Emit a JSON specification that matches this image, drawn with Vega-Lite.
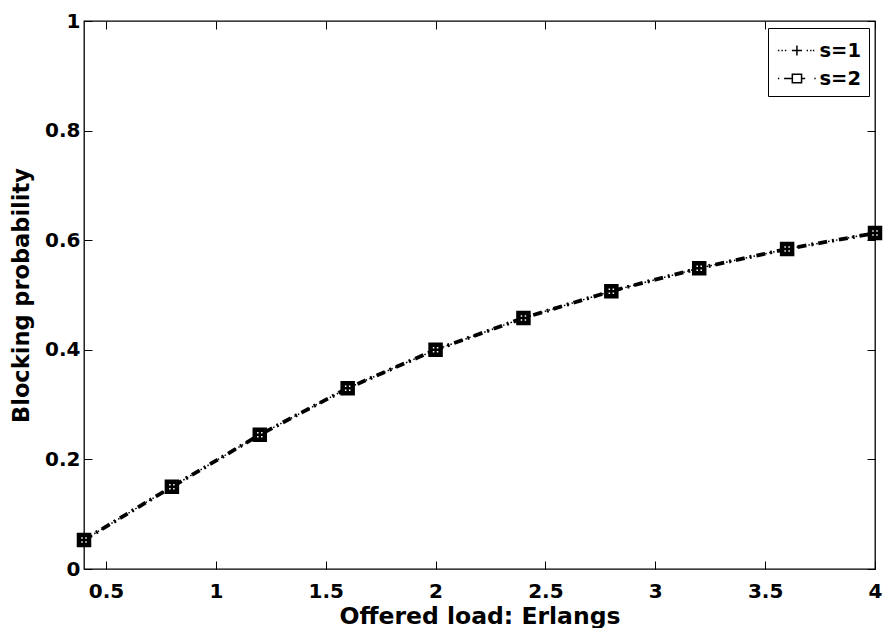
{
  "$schema": "https://vega.github.io/schema/vega-lite/v6.json",
  "width": 791,
  "height": 548,
  "autosize": {"type": "none"},
  "padding": {"left": 84, "top": 21, "right": 10, "bottom": 59},
  "background": "white",
  "config": {
    "font": "DejaVu Sans",
    "view": {"stroke": "black", "strokeWidth": 1.3},
    "axis": {
      "domain": false,
      "grid": false,
      "ticks": true,
      "tickColor": "black",
      "tickSize": -8,
      "tickWidth": 1,
      "labelFont": "DejaVu Sans",
      "labelFontWeight": "bold",
      "labelFontSize": 20,
      "labelColor": "black",
      "titleFont": "DejaVu Sans",
      "titleFontWeight": "bold",
      "titleColor": "black",
      "labelBound": false,
      "labelFlush": false,
      "labelOverlap": false
    }
  },
  "data": {
    "values": [
      {"load": 0.4, "p": 0.053, "s": "s=1"},
      {"load": 0.8, "p": 0.150, "s": "s=1"},
      {"load": 1.2, "p": 0.245, "s": "s=1"},
      {"load": 1.6, "p": 0.330, "s": "s=1"},
      {"load": 2.0, "p": 0.400, "s": "s=1"},
      {"load": 2.4, "p": 0.458, "s": "s=1"},
      {"load": 2.8, "p": 0.507, "s": "s=1"},
      {"load": 3.2, "p": 0.549, "s": "s=1"},
      {"load": 3.6, "p": 0.584, "s": "s=1"},
      {"load": 4.0, "p": 0.613, "s": "s=1"},
      {"load": 0.4, "p": 0.053, "s": "s=2"},
      {"load": 0.8, "p": 0.150, "s": "s=2"},
      {"load": 1.2, "p": 0.245, "s": "s=2"},
      {"load": 1.6, "p": 0.330, "s": "s=2"},
      {"load": 2.0, "p": 0.400, "s": "s=2"},
      {"load": 2.4, "p": 0.458, "s": "s=2"},
      {"load": 2.8, "p": 0.507, "s": "s=2"},
      {"load": 3.2, "p": 0.549, "s": "s=2"},
      {"load": 3.6, "p": 0.584, "s": "s=2"},
      {"load": 4.0, "p": 0.613, "s": "s=2"}
    ]
  },
  "resolve": {"axis": {"x": "independent", "y": "independent"}},
  "layer": [
    {
      "transform": [{"filter": "datum.s === 's=1'"}],
      "mark": {"type": "line", "color": "black", "strokeWidth": 1.5, "strokeDash": [1.5, 2.5]},
      "encoding": {
        "x": {
          "field": "load", "type": "quantitative",
          "scale": {"domain": [0.4, 4], "nice": false, "zero": false},
          "axis": {
            "orient": "bottom",
            "values": [0.5, 1, 1.5, 2, 2.5, 3, 3.5, 4],
            "format": "~g",
            "labelPadding": 20,
            "title": "Offered load: Erlangs",
            "titleFontSize": 23.5,
            "titleBaseline": "alphabetic",
            "titleAlign": "center",
            "titleX": 395.5,
            "titleY": 54
          }
        },
        "y": {
          "field": "p", "type": "quantitative",
          "scale": {"domain": [0, 1], "nice": false},
          "axis": {
            "orient": "left",
            "values": [0, 0.2, 0.4, 0.6, 0.8, 1],
            "format": "~g",
            "labelPadding": 12,
            "title": "Blocking probability",
            "titleFontSize": 22.5,
            "titleAngle": 270,
            "titleBaseline": "bottom",
            "titleAlign": "center",
            "titleX": -51,
            "titleY": 274
          }
        }
      }
    },
    {
      "transform": [{"filter": "datum.s === 's=2'"}],
      "mark": {"type": "line", "color": "black", "strokeWidth": 3.8, "strokeDash": [9, 5, 2, 5]},
      "encoding": {
        "x": {
          "field": "load", "type": "quantitative",
          "axis": {"orient": "top", "values": [0.5, 1, 1.5, 2, 2.5, 3, 3.5, 4], "labels": false, "title": null}
        },
        "y": {
          "field": "p", "type": "quantitative",
          "axis": {"orient": "right", "values": [0, 0.2, 0.4, 0.6, 0.8, 1], "labels": false, "title": null}
        }
      }
    },
    {
      "transform": [{"filter": "datum.s === 's=2'"}],
      "mark": {"type": "point", "shape": "M-1,-1H1V1H-1Z", "filled": true, "fill": "white", "stroke": "black", "strokeWidth": 4.5, "size": 100, "opacity": 1},
      "encoding": {
        "x": {"field": "load", "type": "quantitative", "axis": null},
        "y": {"field": "p", "type": "quantitative", "axis": null}
      }
    },
    {
      "transform": [{"filter": "datum.s === 's=1'"}],
      "mark": {"type": "point", "shape": "M-1,0H1M0,-1V1", "filled": false, "stroke": "black", "strokeWidth": 2.5, "size": 100, "opacity": 1},
      "encoding": {
        "x": {"field": "load", "type": "quantitative", "axis": null},
        "y": {"field": "p", "type": "quantitative", "axis": null}
      }
    },
    {
      "transform": [{"filter": "false"}],
      "mark": {"type": "point", "filled": true, "fill": "white", "stroke": "black", "strokeWidth": 2.5, "size": 784, "opacity": 1},
      "encoding": {
        "x": {"field": "load", "type": "quantitative", "axis": null},
        "y": {"field": "p", "type": "quantitative", "axis": null},
        "shape": {
          "field": "s", "type": "nominal",
          "scale": {
            "domain": ["s=1", "s=2"],
            "range": [
              "M-0.9,0H-0.8M-0.65,0H-0.55M-0.4,0H-0.3M0.1,0H0.82M0.46,-0.36V0.36M1.15,0H1.25M1.4,0H1.5M1.6,0H1.7",
              "M-0.9,0H-0.8M-0.46,0H0.1M0.13,-0.3H0.79V0.3H0.13ZM0.82,0H1.05M1.7,0H1.8"
            ]
          },
          "legend": {
            "title": null,
            "orient": "none",
            "legendX": 684,
            "legendY": 7,
            "fillColor": "white",
            "strokeColor": "black",
            "padding": 7.5,
            "rowPadding": 3,
            "symbolSize": 784,
            "labelOffset": 14,
            "labelFont": "DejaVu Sans",
            "labelFontSize": 19.5,
            "labelFontWeight": "bold",
            "labelColor": "black",
            "encode": {
              "symbols": {
                "update": {
                  "stroke": {"value": "black"},
                  "strokeWidth": {"value": 2.5},
                  "fill": {"value": "white"},
                  "opacity": {"value": 1}
                }
              }
            }
          }
        }
      }
    }
  ]
}
